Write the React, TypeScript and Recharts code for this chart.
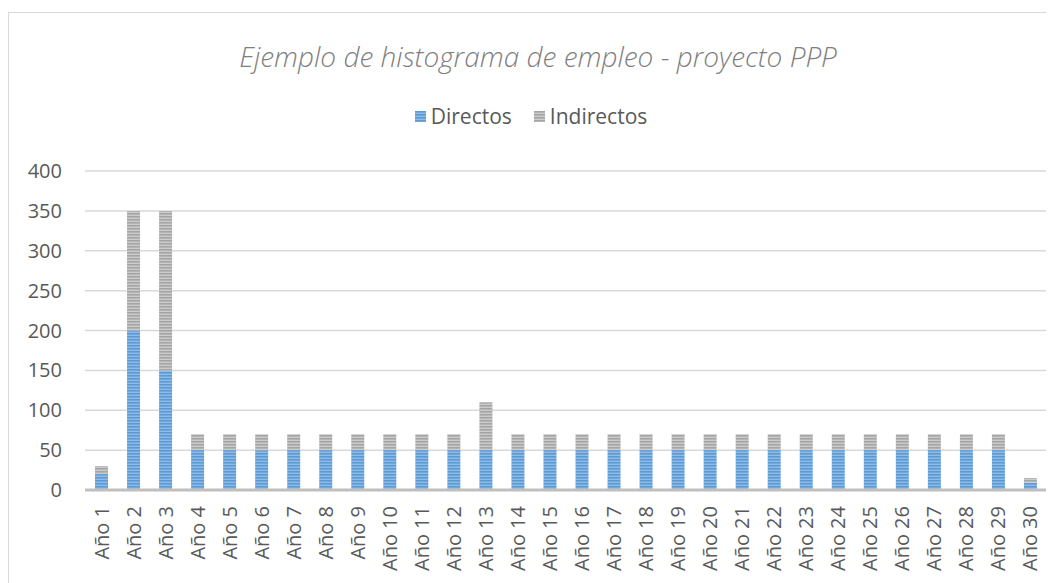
import { BarChart, Bar, XAxis, YAxis, CartesianGrid, Legend } from 'recharts';

const years = Array.from({ length: 30 }, (_, i) => `Año ${i + 1}`);

const directos = [
  20, 200, 150, 50, 50, 50, 50, 50, 50, 50,
  50, 50, 50, 50, 50, 50, 50, 50, 50, 50,
  50, 50, 50, 50, 50, 50, 50, 50, 50, 9,
];

const indirectos = [
  10, 150, 200, 20, 20, 20, 20, 20, 20, 20,
  20, 20, 60, 20, 20, 20, 20, 20, 20, 20,
  20, 20, 20, 20, 20, 20, 20, 20, 20, 6,
];

const yTicks = [0, 50, 100, 150, 200, 250, 300, 350, 400];

const data = years.map((name, i) => ({
  name,
  Directos: directos[i],
  Indirectos: indirectos[i],
}));

const font = '"Open Sans", "Noto Sans", sans-serif';

const XTick = (props: any) => {
  const { x, y, payload } = props;
  return (
    <text
      x={0}
      y={0}
      transform={`translate(${x},${y + 8}) rotate(-90)`}
      textAnchor="end"
      dominantBaseline="central"
      fill="#595959"
      fontSize={20}
      fontFamily={font}
    >
      {payload.value}
    </text>
  );
};

const LegendBox = () => (
  <div
    style={{
      display: 'flex',
      justifyContent: 'center',
      alignItems: 'center',
      fontFamily: font,
      fontSize: 21,
      color: '#595959',
    }}
  >
    <svg width={11} height={11} style={{ marginRight: 5 }}>
      <rect width={11} height={11} fill="url(#stripeBlue)" />
    </svg>
    <span style={{ marginRight: 22 }}>Directos</span>
    <svg width={11} height={11} style={{ marginRight: 5 }}>
      <rect width={11} height={11} fill="url(#stripeGray)" />
    </svg>
    <span>Indirectos</span>
  </div>
);

const App = () => {
  return (
    <div
      style={{
        position: 'relative',
        width: 1046,
        height: 575,
        borderTop: '1px solid #d9d9d9',
        borderLeft: '1px solid #d9d9d9',
        marginTop: 4,
        boxSizing: 'border-box',
      }}
    >
      <div
        style={{
          position: 'absolute',
          top: 24,
          left: 0,
          width: 1058,
          textAlign: 'center',
          fontFamily: font,
          fontStyle: 'italic',
          fontWeight: 300,
          fontSize: 28,
          color: '#7f7f7f',
        }}
      >
        Ejemplo de histograma de empleo - proyecto PPP
      </div>
      <BarChart
        width={1046}
        height={571}
        data={data}
        margin={{ top: 131, right: 8, left: 0, bottom: 0 }}
        barSize={13}
        style={{ position: 'absolute', top: -1, left: -1 }}
      >
        <defs>
          <pattern id="stripeBlue" patternUnits="userSpaceOnUse" width={6} height={3}>
            <rect width={6} height={3} fill="#8fbbe6" />
            <rect width={6} height={1.6} fill="#5b9bd5" />
          </pattern>
          <pattern id="stripeGray" patternUnits="userSpaceOnUse" width={6} height={3}>
            <rect width={6} height={3} fill="#cbcbcb" />
            <rect width={6} height={1.6} fill="#a5a5a5" />
          </pattern>
        </defs>
        <CartesianGrid vertical={false} stroke="#d9d9d9" strokeWidth={1.5} />
        <XAxis
          dataKey="name"
          interval={0}
          tickLine={false}
          axisLine={{ stroke: '#bfbfbf', strokeWidth: 3 }}
          tick={<XTick />}
          height={93}
        />
        <YAxis
          domain={[0, 400]}
          ticks={yTicks}
          width={77}
          tickSize={0}
          tickMargin={23}
          axisLine={false}
          tickLine={false}
          tick={{ fill: '#595959', fontSize: 20, fontFamily: font }}
        />
        <Legend
          verticalAlign="top"
          content={<LegendBox />}
          wrapperStyle={{ top: 90, left: 0, width: 1046 }}
        />
        <Bar dataKey="Directos" stackId="a" fill="url(#stripeBlue)" isAnimationActive={false} />
        <Bar dataKey="Indirectos" stackId="a" fill="url(#stripeGray)" isAnimationActive={false} />
      </BarChart>
    </div>
  );
};

export default App;
